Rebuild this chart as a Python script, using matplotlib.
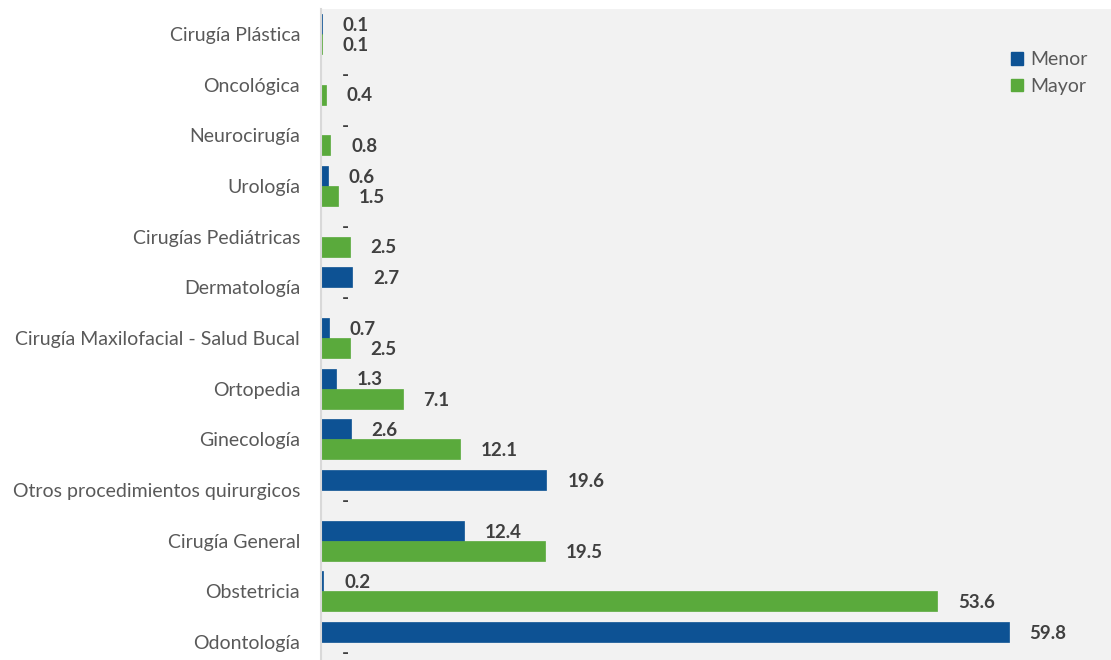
import matplotlib
matplotlib.use("Agg")
import matplotlib.pyplot as plt
from matplotlib.patches import Patch
import numpy as np

plt.rcParams['font.family'] = ['Lato', 'DejaVu Sans']

categories = ["Cirugía Plástica", "Oncológica", "Neurocirugía", "Urología",
              "Cirugías Pediátricas", "Dermatología",
              "Cirugía Maxilofacial - Salud Bucal", "Ortopedia", "Ginecología",
              "Otros procedimientos quirurgicos", "Cirugía General",
              "Obstetricia", "Odontología"]
menor = [0.1, None, None, 0.6, None, 2.7, 0.7, 1.3, 2.6, 19.6, 12.4, 0.2, 59.8]
mayor = [0.1, 0.4, 0.8, 1.5, 2.5, None, 2.5, 7.1, 12.1, None, 19.5, 53.6, None]
series_names = ["Menor", "Mayor"]
colors = ["#0d5294", "#5aaa3c"]

fig = plt.figure(figsize=(11.11, 6.6), dpi=100)
ax = fig.add_axes([321/1111, 0, 1 - 321/1111, 1 - 9/660])
ax.set_facecolor("#f2f2f2")

n = len(categories)
ypos = np.arange(n)[::-1]  # first category at top
h = 0.395

for vals, off, col in [(menor, h/2, colors[0]), (mayor, -h/2, colors[1])]:
    widths = [v if v is not None else 0 for v in vals]
    ax.barh(ypos + off, widths, height=h, color=col, edgecolor=col, linewidth=0.5)
    for y, v in zip(ypos, vals):
        lbl = f"{v:.1f}" if v is not None else "-"
        ax.annotate(lbl, xy=(v if v is not None else 0, y + off),
                    xytext=(15, -1), textcoords="offset points",
                    ha="left", va="center", fontsize=13.5, fontweight="bold",
                    color="#404040")

ax.set_xlim(0, 68.7)
ax.set_ylim(-0.355, 12.49)
ax.set_yticks(ypos)
ax.set_yticklabels(categories, fontsize=14, color="#595959")
ax.tick_params(axis="y", length=0, pad=15)
ax.set_xticks([])
for s in ["top", "right", "bottom"]:
    ax.spines[s].set_visible(False)
ax.spines["left"].set_color("#d9d9d9")
ax.spines["left"].set_linewidth(1.5)

handles = [Patch(facecolor=c, edgecolor=c) for c in colors]
leg = ax.legend(handles, series_names, loc="upper right", bbox_to_anchor=(0.993, 0.962),
                frameon=False, fontsize=14, handlelength=0.6, handleheight=0.6,
                handletextpad=0.4, labelspacing=0.5)
for t in leg.get_texts():
    t.set_color("#595959")

fig.savefig("out.png", dpi=100, facecolor="white")
